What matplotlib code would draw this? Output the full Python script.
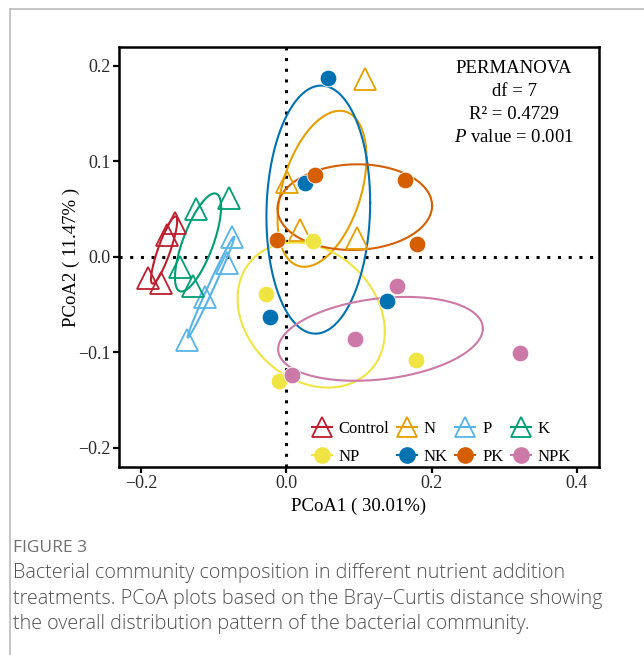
import numpy as np
import matplotlib
matplotlib.use("Agg")
import matplotlib.pyplot as plt
from matplotlib.lines import Line2D

# PCoA scores (4 replicates per treatment)
groups = ["Control", "N", "P", "K", "NP", "NK", "PK", "NPK"]
colors = ["#BE1E2D", "#E69F00", "#56B4E9", "#009E73",
          "#F0E442", "#0072B2", "#D55E00", "#CC79A7"]
markers = ["^", "^", "^", "^", "o", "o", "o", "o"]

pc1 = {
    "Control": [-0.153, -0.164, -0.191, -0.173],
    "N":       [0.109, 0.001, 0.019, 0.097],
    "P":       [-0.075, -0.082, -0.112, -0.137],
    "K":       [-0.124, -0.079, -0.146, -0.128],
    "NP":      [0.037, -0.028, -0.010, 0.178],
    "NK":      [0.058, 0.025, -0.023, 0.139],
    "PK":      [0.040, 0.164, -0.013, 0.180],
    "NPK":     [0.153, 0.094, 0.008, 0.322],
}
pc2 = {
    "Control": [0.035, 0.023, -0.022, -0.027],
    "N":       [0.186, 0.078, 0.028, 0.020],
    "P":       [0.021, -0.006, -0.042, -0.087],
    "K":       [0.050, 0.062, -0.011, -0.031],
    "NP":      [0.017, -0.039, -0.130, -0.108],
    "NK":      [0.187, 0.077, -0.063, -0.046],
    "PK":      [0.086, 0.080, 0.018, 0.013],
    "NPK":     [-0.030, -0.086, -0.124, -0.101],
}

stats_lines = ["PERMANOVA", "df = 7", "R\u00b2 = 0.4729", "$P$ value = 0.001"]

plt.rcParams["font.family"] = ["Liberation Serif", "DejaVu Serif"]
plt.rcParams["mathtext.fontset"] = "custom"
plt.rcParams["mathtext.rm"] = "Liberation Serif"
plt.rcParams["mathtext.it"] = "Liberation Serif:italic"


def cov_trob(pts, nu=5, maxit=25, tol=0.01):
    # multivariate t fit, same steps as MASS::cov.trob
    n, p = pts.shape
    loc = pts.mean(axis=0)
    w = np.ones(n)
    for _ in range(maxit):
        w0 = w
        X = pts - loc
        S = (X * w[:, None]).T @ X / w.sum()
        Q = np.einsum("ij,jk,ik->i", X, np.linalg.inv(S), X)
        w = (nu + p) / (nu + Q)
        loc = (w[:, None] * pts).sum(axis=0) / w.sum()
        if np.all(np.abs(w - w0) < tol):
            break
    X = pts - loc
    cov = (X * w[:, None]).T @ X / n
    return loc, cov


def t_ellipse(x, y, level=0.5, segments=100):
    pts = np.column_stack([x, y])
    center, shape = cov_trob(pts)
    d2 = len(x) - 1
    fq = d2 / 2 * ((1 - level) ** (-2 / d2) - 1)  # qf(level, 2, d2)
    radius = np.sqrt(2 * fq)
    t = np.linspace(0, 2 * np.pi, segments + 1)
    circle = np.column_stack([np.cos(t), np.sin(t)])
    L = np.linalg.cholesky(shape).T
    e = center + radius * circle @ L
    return e[:, 0], e[:, 1]


fig = plt.figure(figsize=(6.44, 6.55), dpi=100)
ax = fig.add_axes([0.1848, 0.2870, 0.7453, 0.6412])

# reference lines at zero
ax.axhline(0, color="black", lw=2.2, ls=(0, (1, 2.5)), zorder=1)
ax.axvline(0, color="black", lw=2.2, ls=(0, (1, 2.5)), zorder=1)

handles = {}
for g, c, m in zip(groups, colors, markers):
    xs, ys = pc1[g], pc2[g]
    ex, ey = t_ellipse(xs, ys)
    ax.plot(ex, ey, color=c, lw=1.5, zorder=2)
    if m == "^":
        ax.plot(xs, ys, ls="none", marker="^", ms=16, mfc="none",
                mec=c, mew=1.3, zorder=3)
        handles[g] = Line2D([], [], color=c, lw=1.5, marker="^", ms=14,
                            mfc="none", mec=c, mew=1.3)
    else:
        ax.plot(xs, ys, ls="none", marker="o", ms=12, mfc=c,
                mec="white", mew=0.6, zorder=3)
        handles[g] = Line2D([], [], color=c, lw=1.5, marker="o", ms=11,
                            mfc=c, mec=c)

ax.set_xlim(-0.2306, 0.4307)
ax.set_ylim(-0.2199, 0.2195)
ax.set_xticks([-0.2, 0.0, 0.2, 0.4])
ax.set_yticks([-0.2, -0.1, 0.0, 0.1, 0.2])
ax.set_xticklabels(["\u22120.2", "0.0", "0.2", "0.4"])
ax.set_yticklabels(["\u22120.2", "\u22120.1", "0.0", "0.1", "0.2"])
ax.tick_params(direction="out", length=4, width=1.6, labelsize=13,
               color="black", labelcolor="#2a2a2a", pad=2)
for s in ax.spines.values():
    s.set_linewidth(1.8)

ax.set_xlabel("PCoA1 ( 30.01%)", fontsize=13.5, labelpad=4)
ax.set_ylabel("PCoA2 ( 11.47% )", fontsize=13.5, labelpad=-1)

# PERMANOVA summary
for i, t in enumerate(stats_lines):
    ax.text(0.823, 0.948 - i * 0.0545, t, ha="center", va="center",
            fontsize=13.5, transform=ax.transAxes)

# legend: matplotlib fills columns first, so interleave the two rows
order = ["Control", "NP", "N", "NK", "P", "PK", "K", "NPK"]
ax.legend([handles[g] for g in order], order, ncol=4, frameon=False,
          loc="center", bbox_to_anchor=(0.672, 0.058), fontsize=12,
          handlelength=1.2, handletextpad=0.4, columnspacing=0.45,
          labelspacing=0.72, borderpad=0.2)

# page frame and caption
fig.add_artist(Line2D([10 / 644, 1.0], [1 - 9 / 655, 1 - 9 / 655],
                      color="#bbbbbb", lw=1.2, transform=fig.transFigure))
fig.add_artist(Line2D([10 / 644, 10 / 644], [0.0, 1 - 9 / 655],
                      color="#bbbbbb", lw=1.2, transform=fig.transFigure))

fig.text(13 / 644, 1 - 548 / 655, "FIGURE 3", family="Open Sans",
         fontsize=12.5, color="#707070", va="center")
caption = ("Bacterial community composition in different nutrient addition\n"
           "treatments. PCoA plots based on the Bray\u2013Curtis distance showing\n"
           "the overall distribution pattern of the bacterial community.")
fig.text(13 / 644, 1 - 563 / 655, caption, family="Open Sans", fontsize=14.2,
         fontweight="light", color="#505050", va="top", linespacing=1.38)

fig.savefig("out.png", dpi=100)
